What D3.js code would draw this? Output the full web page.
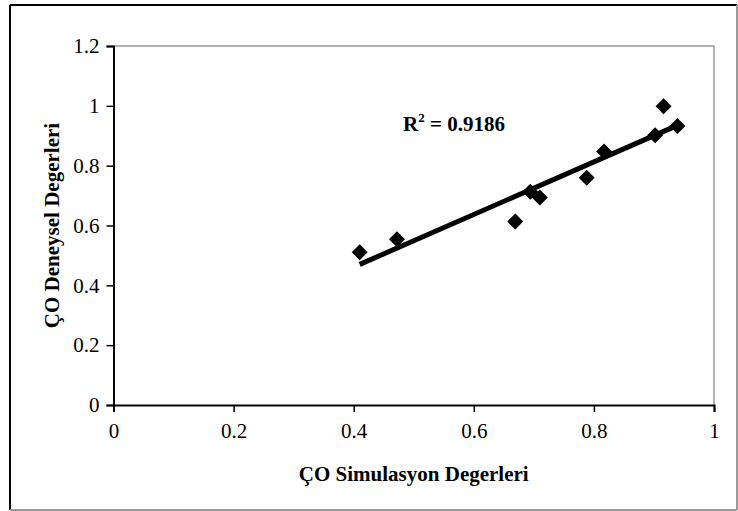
<!DOCTYPE html>
<html>
<head>
<meta charset="utf-8">
<script src="https://d3js.org/d3.v7.min.js"></script>
<style>
  body { margin: 0; background: #fff; }
  svg text { font-family: "Liberation Serif", "Times New Roman", serif; }
</style>
</head>
<body>
<div id="chart"></div>
<script>
(function () {
    var width = 738,
        height = 511;

    var simValues = [0.410, 0.472, 0.669, 0.694, 0.710, 0.788, 0.817, 0.902, 0.916, 0.939];
    var expValues = [0.511, 0.554, 0.613, 0.713, 0.694, 0.760, 0.847, 0.902, 0.999, 0.933];
    var xTicks = [0, 0.2, 0.4, 0.6, 0.8, 1];
    var yTicks = [0, 0.2, 0.4, 0.6, 0.8, 1, 1.2];
    var r2Label = "0.9186";

    var left = 113.5, right = 714, top = 46, bottom = 405;

    var svg = d3.select("#chart")
        .append("svg")
        .attr("width", width)
        .attr("height", height);

    // outer frame
    svg.append("line").attr("x1", 10).attr("y1", 5).attr("x2", 10).attr("y2", 510)
        .attr("stroke", "#000").attr("stroke-width", 2);
    svg.append("line").attr("x1", 10).attr("y1", 5).attr("x2", 737).attr("y2", 5)
        .attr("stroke", "#000").attr("stroke-width", 2);
    svg.append("line").attr("x1", 10).attr("y1", 510).attr("x2", 737).attr("y2", 510)
        .attr("stroke", "#999").attr("stroke-width", 2);
    svg.append("line").attr("x1", 737).attr("y1", 5).attr("x2", 737).attr("y2", 510)
        .attr("stroke", "#999").attr("stroke-width", 2);

    var x = d3.scaleLinear().domain([0, 1]).range([left, right]);
    var y = d3.scaleLinear().domain([0, 1.2]).range([bottom, top]);

    // plot area top/right in gray
    svg.append("path")
        .attr("d", "M" + left + "," + top + "H" + right + "V" + bottom)
        .attr("fill", "none")
        .attr("stroke", "#999")
        .attr("stroke-width", 1.5);

    var xAxis = svg.append("g")
        .attr("transform", "translate(0," + bottom + ")")
        .call(d3.axisBottom(x).tickValues(xTicks).tickSize(7).tickPadding(11)
            .tickFormat(function (d) { return d3.format("")(d); }));

    var yAxis = svg.append("g")
        .attr("transform", "translate(" + left + ",0)")
        .call(d3.axisLeft(y).tickValues(yTicks).tickSize(7).tickPadding(7)
            .tickFormat(function (d) { return d3.format("")(+d.toFixed(1)); }));

    [xAxis, yAxis].forEach(function (g) {
        g.attr("font-family", null).attr("font-size", null);
        g.select(".domain").attr("stroke", "#000").attr("stroke-width", 2);
        g.selectAll(".tick line").attr("stroke", "#000").attr("stroke-width", 1.5);
        g.selectAll(".tick text")
            .attr("fill", "#000")
            .style("font-family", "Liberation Serif")
            .style("font-size", "21px");
    });

    // regression line
    var mx = d3.mean(simValues), my = d3.mean(expValues);
    var sxy = d3.sum(simValues, function (v, i) { return (v - mx) * (expValues[i] - my); });
    var sxx = d3.sum(simValues, function (v) { return (v - mx) * (v - mx); });
    var slope = sxy / sxx, icpt = my - slope * mx;
    var ext = d3.extent(simValues);

    svg.append("line")
        .attr("x1", x(ext[0])).attr("y1", y(icpt + slope * ext[0]))
        .attr("x2", x(ext[1])).attr("y2", y(icpt + slope * ext[1]))
        .attr("stroke", "#000")
        .attr("stroke-width", 5);

    svg.selectAll(".pt")
        .data(simValues)
        .enter().append("path")
        .attr("class", "pt")
        .attr("d", "M0,-8L8,0L0,8L-8,0Z")
        .attr("fill", "#000")
        .attr("transform", function (d, i) {
            return "translate(" + x(d) + "," + y(expValues[i]) + ")";
        });

    var r2 = svg.append("text")
        .attr("x", 403).attr("y", 131)
        .style("font-size", "21px")
        .style("font-weight", "bold");
    r2.append("tspan").text("R");
    r2.append("tspan").attr("dy", -9).style("font-size", "13px").text("2");
    r2.append("tspan").attr("dy", 9).text(" = " + r2Label);

    svg.append("text")
        .attr("x", (left + right) / 2).attr("y", 481)
        .attr("text-anchor", "middle")
        .style("font-size", "21px")
        .style("font-weight", "bold")
        .text("ÇO Simulasyon Degerleri");

    svg.append("text")
        .attr("transform", "translate(59," + (top + bottom) / 2 + ") rotate(-90)")
        .attr("text-anchor", "middle")
        .style("font-size", "21px")
        .style("font-weight", "bold")
        .text("ÇO Deneysel Degerleri");
})();
</script>
</body>
</html>
